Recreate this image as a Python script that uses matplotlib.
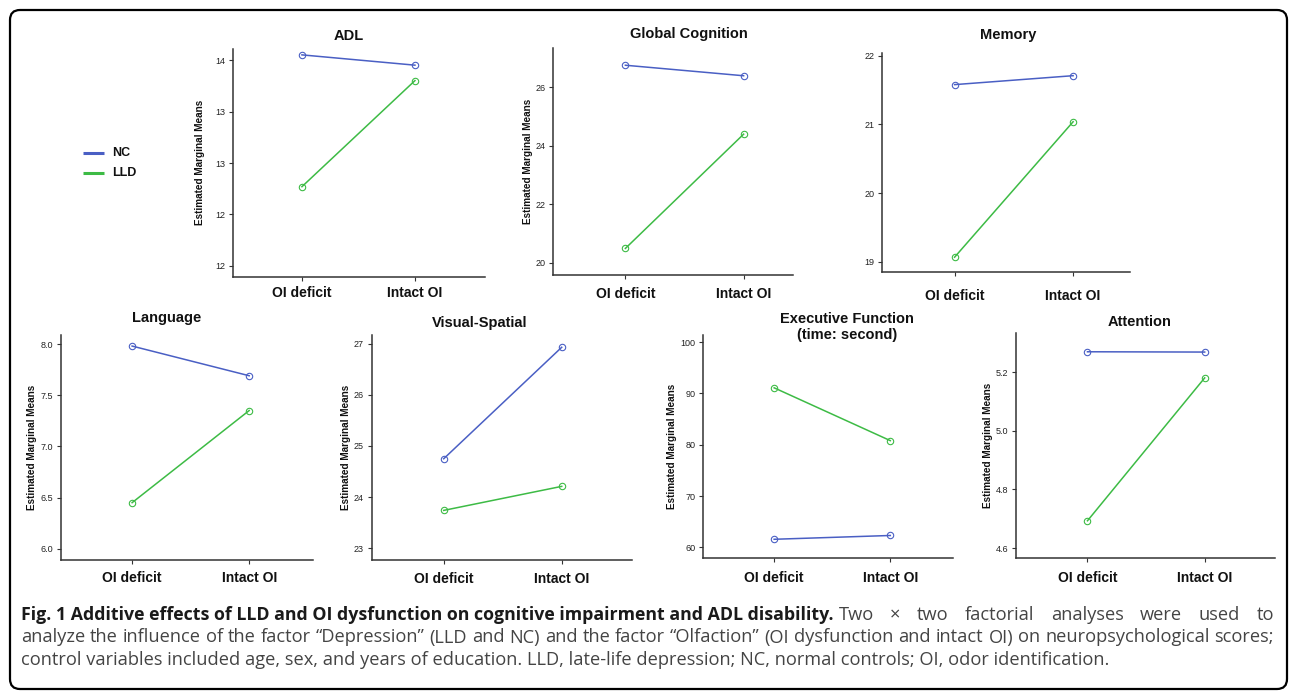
import matplotlib
matplotlib.use('Agg')
import matplotlib.pyplot as plt
from matplotlib.patches import FancyBboxPatch

W, H, DPI = 1292, 691, 100
plt.rcParams['font.family'] = ['Liberation Sans', 'DejaVu Sans']

# ---------------- data ----------------
categories = ["OI deficit", "Intact OI"]
groups = ["NC", "LLD"]

adl_nc = [14.05, 13.95]
adl_lld = [12.77, 13.80]
adl_ticks = [12.0, 12.5, 13.0, 13.5, 14.0]
adl_ticklabels = ["12", "12", "13", "13", "14"]

gc_nc = [26.76, 26.40]
gc_lld = [20.49, 24.40]
gc_ticks = [20, 22, 24, 26]
gc_ticklabels = ["20", "22", "24", "26"]

mem_nc = [21.58, 21.71]
mem_lld = [19.07, 21.04]
mem_ticks = [19, 20, 21, 22]
mem_ticklabels = ["19", "20", "21", "22"]

lang_nc = [7.98, 7.69]
lang_lld = [6.45, 7.35]
lang_ticks = [6.0, 6.5, 7.0, 7.5, 8.0]
lang_ticklabels = ["6.0", "6.5", "7.0", "7.5", "8.0"]

vs_nc = [24.75, 26.93]
vs_lld = [23.74, 24.21]
vs_ticks = [23, 24, 25, 26, 27]
vs_ticklabels = ["23", "24", "25", "26", "27"]

ef_nc = [61.56, 62.30]
ef_lld = [91.10, 80.80]
ef_ticks = [60, 70, 80, 90, 100]
ef_ticklabels = ["60", "70", "80", "90", "100"]

att_nc = [5.269, 5.268]
att_lld = [4.693, 5.180]
att_ticks = [4.6, 4.8, 5.0, 5.2]
att_ticklabels = ["4.6", "4.8", "5.0", "5.2"]

ylabel_text = "Estimated Marginal Means"
caption_bold = "Fig. 1 Additive effects of LLD and OI dysfunction on cognitive impairment and ADL disability."
caption_l1 = "Two \u00d7 two factorial analyses were used to"
caption_l2 = ("analyze the influence of the factor \u201cDepression\u201d (LLD and NC) and the factor "
              "\u201cOlfaction\u201d (OI dysfunction and intact OI) on neuropsychological scores;")
caption_l3 = ("control variables included age, sex, and years of education. LLD, late-life depression; "
              "NC, normal controls; OI, odor identification.")

BLUE = '#4a5fc4'
GREEN = '#3dbb45'
SPINE = '#333333'

fig = plt.figure(figsize=(W / DPI, H / DPI), dpi=DPI)
bg = fig.add_axes([0, 0, 1, 1], zorder=-5)
bg.set_xlim(0, W)
bg.set_ylim(H, 0)
bg.axis('off')
bg.add_patch(FancyBboxPatch((10, 10), 1277, 679, boxstyle="round,pad=0,rounding_size=10",
                            fill=False, lw=1.6, ec='black', clip_on=False))

# layout: left, right, top, bottom (px), ylim, xlim right, ylabel offset px, xtick pad pt
layout = {
    'adl':  (233, 485, 49, 276.7, (11.896, 14.107), 1.62, 33, 3.4),
    'gc':   (553.3, 793, 48, 275, (19.58, 27.35), 1.418, 25, 5.3),
    'mem':  (882.3, 1130, 53, 272.3, (18.85, 22.04), 1.48, None, 8.9),
    'lang': (60.7, 313.3, 335, 560, (5.89, 8.088), 1.548, 29, 5.0),
    'vs':   (371.7, 631.7, 335, 560, (22.77, 27.17), 1.593, 26, 5.5),
    'ef':   (703.3, 953, 335, 558.3, (57.85, 101.4), 1.54, 31, 6.0),
    'att':  (1016, 1275, 332.7, 558.3, (4.565, 5.334), 1.6, 27.7, 6.0),
}


def panel(key, nc, lld, ticks, ticklabels):
    L, R, T, B, ylim, xr, ydx, xpad = layout[key]
    ax = fig.add_axes([L / W, 1 - B / H, (R - L) / W, (B - T) / H])
    ax.patch.set_alpha(0)
    xs = list(range(len(categories)))
    ax.plot(xs, nc, color=BLUE, lw=1.1, marker='o', ms=4.6, mfc='none', mew=0.8, clip_on=False)
    ax.plot(xs, lld, color=GREEN, lw=1.1, marker='o', ms=4.6, mfc='none', mew=0.8, clip_on=False)
    ax.set_xlim(-0.61, xr)
    ax.set_ylim(*ylim)
    ax.set_xticks(xs)
    ax.set_xticklabels(categories, fontweight='bold', fontsize=10, color='#111111')
    ax.set_yticks(ticks)
    ax.set_yticklabels(ticklabels, fontsize=6.5, color='#222222')
    for s in ('top', 'right'):
        ax.spines[s].set_visible(False)
    for s in ('left', 'bottom'):
        ax.spines[s].set_color(SPINE)
        ax.spines[s].set_linewidth(1.1)
    ax.tick_params(axis='x', length=3, width=0.8, color=SPINE, pad=xpad)
    ax.tick_params(axis='y', length=3, width=0.8, color=SPINE, pad=2.5)
    if ydx is not None:
        ax.set_ylabel(ylabel_text, fontsize=7.2, fontweight='bold', color='#111111', va='center')
        ax.yaxis.set_label_coords(-ydx / (R - L), 0.5)
    return ax


panel('adl', adl_nc, adl_lld, adl_ticks, adl_ticklabels)
panel('gc', gc_nc, gc_lld, gc_ticks, gc_ticklabels)
panel('mem', mem_nc, mem_lld, mem_ticks, mem_ticklabels)
panel('lang', lang_nc, lang_lld, lang_ticks, lang_ticklabels)
panel('vs', vs_nc, vs_lld, vs_ticks, vs_ticklabels)
panel('ef', ef_nc, ef_lld, ef_ticks, ef_ticklabels)
panel('att', att_nc, att_lld, att_ticks, att_ticklabels)

titles = [("ADL", 349, 36), ("Global Cognition", 689, 34), ("Memory", 1008, 35),
          ("Language", 167, 318), ("Visual-Spatial", 480, 323),
          ("Executive Function\n(time: second)", 847, 327), ("Attention", 1140, 322)]
for t, x, y in titles:
    bg.text(x, y, t, ha='center', va='center', fontsize=10.5, fontweight='bold',
            color='#111111', linespacing=1.25)

# legend
for name, col, y in ((groups[0], BLUE, 153.3), (groups[1], GREEN, 173.3)):
    bg.plot([83, 104], [y, y], color=col, lw=2.2, solid_capstyle='butt')
    bg.text(112, y, name, ha='left', va='center', fontsize=9, fontweight='bold', color='#111111')

# caption (Open Sans)
cap_font = ['Open Sans', 'Noto Sans', 'DejaVu Sans']
renderer = fig.canvas.get_renderer()
X0, X1 = 21, 1274
REG_C, BOLD_C = '#444444', '#1a1a1a'
probe = bg.text(0, 0, caption_l2, fontsize=10, family=cap_font)
fs = 10 * (X1 - X0) / probe.get_window_extent(renderer).width
probe.remove()


def width(s, weight, size):
    t = bg.text(0, 0, s, fontsize=size, family=cap_font, fontweight=weight)
    w = t.get_window_extent(renderer).width
    t.remove()
    return w


def justified(words, weight, size, color, xa, xb, y):
    ws = [width(w, weight, size) for w in words]
    gap = (xb - xa - sum(ws)) / (len(words) - 1)
    x = xa
    for w, wd in zip(words, ws):
        bg.text(x, y, w, fontsize=size, family=cap_font, fontweight=weight,
                color=color, va='baseline', ha='left')
        x += wd + gap


# line 1: bold lead-in, then justified regular words
fsb = fs * 0.97
bg.text(X0, 620, caption_bold, fontsize=fsb, family=cap_font, fontweight='bold',
        color=BOLD_C, va='baseline')
bw = width(caption_bold, 'bold', fsb)
justified(caption_l1.split(' '), 'normal', fs, REG_C, X0 + bw + 5, X1, 620)
# line 2 and 3
justified(caption_l2.split(' '), 'normal', fs, REG_C, X0, X1, 642.5)
bg.text(X0, 665, caption_l3, fontsize=fs, family=cap_font, color=REG_C, va='baseline')

fig.savefig('out.png', dpi=DPI)
